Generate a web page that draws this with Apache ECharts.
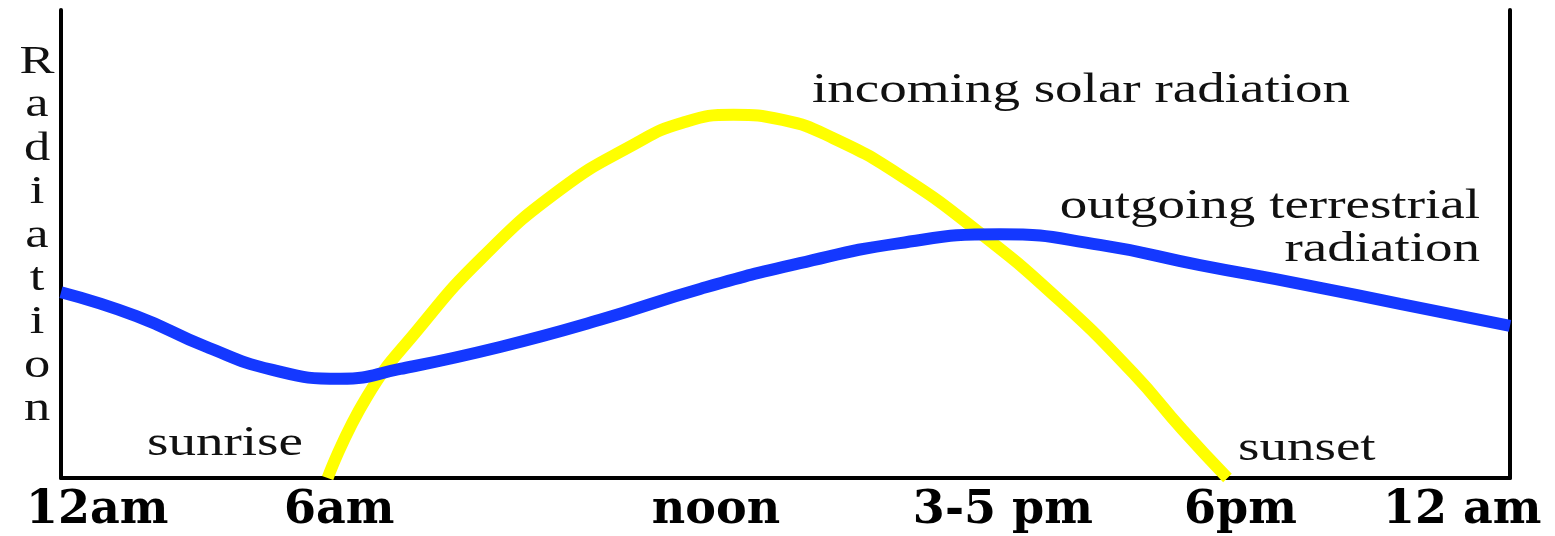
<!DOCTYPE html>
<html>
<head>
<meta charset="utf-8">
<script src="https://cdn.jsdelivr.net/npm/echarts@6/dist/echarts.min.js"></script>
<style>
html,body{margin:0;padding:0;background:#fff;}
#chart{width:1555px;height:536px;}
</style>
</head>
<body>
<div id="chart"></div>
<script>
// Schematic time axis (0 = left edge, 100 = right edge), schematic radiation (0..100)
const tickPositions = [2.5, 19.2, 45.2, 65.0, 81.4, 96.7];
const tickLabels = ['12am', '6am', 'noon', '3-5 pm', '6pm', '12 am'];

const outgoingX = [0, 5.2, 9.9, 14.6, 19.3, 23.4, 30.3, 37.2, 44.1, 51.0, 57.9, 64.8, 71.7, 78.6, 85.5, 92.4, 100];
const outgoingY = [39.7, 34.6, 28.2, 23.1, 21.2, 23.3, 28.0, 33.8, 40.4, 45.9, 50.2, 52.1, 49.8, 45.5, 41.5, 37.2, 32.5];

const incomingX = [18.4, 21.1, 24.6, 29.1, 34.4, 39.5, 42.9, 46.4, 49.8, 53.3, 57.9, 63.4, 68.9, 74.0, 77.4, 80.5];
const incomingY = [0, 17.3, 31.6, 47.2, 61.5, 71.2, 75.9, 77.6, 76.5, 72.6, 64.7, 52.4, 38.0, 22.4, 10.3, 0];

const yTitle = 'Radiation';
const labelIncoming = 'incoming solar radiation';
const labelOutgoing = 'outgoing terrestrial\nradiation';
const labelSunrise = 'sunrise';
const labelSunset = 'sunset';

const zip = (xs, ys) => xs.map((x, i) => [x, ys[i]]);

const chart = echarts.init(document.getElementById('chart'), null, {renderer: 'canvas'});

const serif = '"Liberation Serif", "Times New Roman", serif';
const stretch = 1.28;
function note(text, x, y, align, vAlign, size, lh) {
  return {
    type: 'text', x: x, y: y, scaleX: stretch, z: 10,
    style: {
      text: text, x: 0, y: 0,
      font: (size || 43) + 'px ' + serif,
      fill: '#111', align: align, verticalAlign: vAlign, lineHeight: lh || 43
    }
  };
}

const axisLineStyle = {color: '#000', width: 4};

chart.setOption({
  animation: false,
  backgroundColor: '#fff',
  grid: {left: 61, right: 45, top: 10, bottom: 58, containLabel: false},
  xAxis: {
    type: 'value', min: 0, max: 100,
    axisLine: {show: true, onZero: false, lineStyle: axisLineStyle},
    axisTick: {show: false},
    splitLine: {show: false},
    axisLabel: {
      show: true,
      customValues: tickPositions,
      formatter: function (v) {
        const i = tickPositions.findIndex(p => Math.abs(p - v) < 1e-6);
        return i >= 0 ? tickLabels[i] : '';
      },
      margin: 10,
      fontFamily: '"DejaVu Serif", serif',
      fontWeight: 'bold',
      fontSize: 46,
      color: '#000',
      hideOverlap: false
    }
  },
  yAxis: [{
    type: 'value', min: 0, max: 100, position: 'left',
    axisLine: {show: true, onZero: false, lineStyle: axisLineStyle},
    axisTick: {show: false}, axisLabel: {show: false}, splitLine: {show: false}
  }, {
    type: 'value', min: 0, max: 100, position: 'right',
    axisLine: {show: true, onZero: false, lineStyle: axisLineStyle},
    axisTick: {show: false}, axisLabel: {show: false}, splitLine: {show: false}
  }],
  series: [{
    name: 'outgoing terrestrial radiation',
    type: 'line',
    data: zip(outgoingX, outgoingY),
    smooth: 0.5,
    showSymbol: false,
    lineStyle: {color: '#1438ff', width: 12},
    z: 3
  }, {
    name: 'incoming solar radiation',
    type: 'line',
    data: zip(incomingX, incomingY),
    smooth: 0.5,
    showSymbol: false,
    lineStyle: {color: '#ffff00', width: 12},
    z: 2
  }],
  graphic: [
    note(yTitle.split('').join('\n'), 37, 40.5, 'center', 'top', 41, 43.4),
    note(labelIncoming, 812, 90.5, 'left', 'middle'),
    note(labelOutgoing, 1480, 185, 'right', 'top'),
    note(labelSunrise, 147, 443.5, 'left', 'middle'),
    note(labelSunset, 1238, 448.5, 'left', 'middle')
  ]
});
</script>
</body>
</html>
